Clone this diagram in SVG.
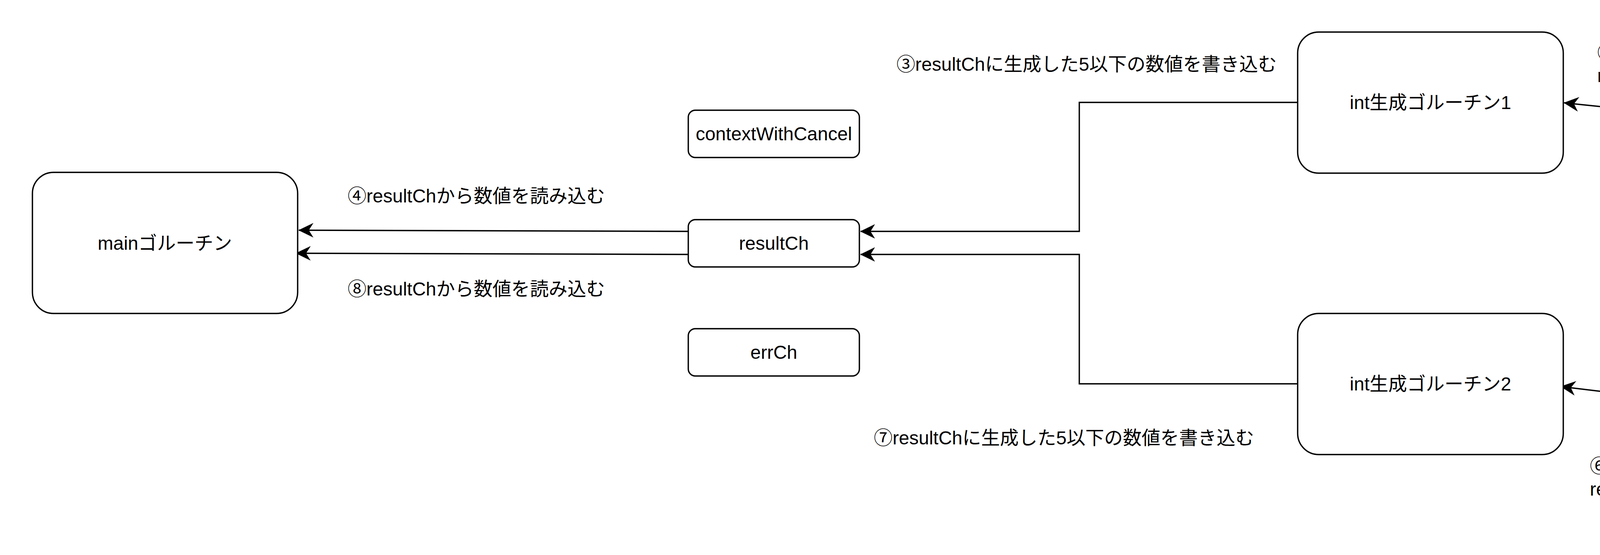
<svg xmlns="http://www.w3.org/2000/svg" width="7224" height="1420" viewBox="0 0 7224 1420">
<style>
  .node { fill: #ffffff; stroke: #000000; stroke-width: 3.4; }
  .edge { fill: none; stroke: #000000; stroke-width: 3.4; }
  text { font-family: "Liberation Sans", "Noto Sans CJK JP", sans-serif; font-size: 48px; fill: #000000; }
  .c { text-anchor: middle; dominant-baseline: central; }
  .l { text-anchor: start; dominant-baseline: central; }
</style>
<defs>
  <marker id="arrow" markerUnits="userSpaceOnUse" markerWidth="40" markerHeight="40" refX="38" refY="18" orient="auto" viewBox="0 0 40 36">
    <path d="M38,18 L2,0.5 L13,18 L2,35.5 Z" fill="#000000" stroke="#000000" stroke-width="1"/>
  </marker>
</defs>
<rect width="7224" height="1420" fill="#ffffff"/>

<g id="connectors">
  <path class="edge" d="M6463,291 L5374,382" marker-end="url(#arrow)"/>
  <path class="edge" d="M4936,360 L4004,263" marker-end="url(#arrow)"/>
  <path class="edge" d="M3322,262 L2763,262 L2763,592 L2203,592" marker-end="url(#arrow)"/>
  <path class="edge" d="M1762,592 L765,589" marker-end="url(#arrow)"/>
  <path class="edge" d="M6463,993 L5374,1102" marker-end="url(#arrow)"/>
  <path class="edge" d="M4936,1102 L3996,989" marker-end="url(#arrow)"/>
  <path class="edge" d="M3322,982 L2763,982 L2763,651 L2203,651" marker-end="url(#arrow)"/>
  <path class="edge" d="M1762,651 L758,648" marker-end="url(#arrow)"/>
</g>

<g id="main">
  <rect class="node" x="83" y="441" width="679" height="361" rx="54" ry="54"/>
  <text class="c" x="422" y="622">mainゴルーチン</text>
</g>
<g id="ctx-left">
  <rect class="node" x="1762" y="282" width="438" height="121" rx="18" ry="18"/>
  <text class="c" x="1981" y="342">contextWithCancel</text>
</g>
<g id="resultCh">
  <rect class="node" x="1762" y="562" width="438" height="121" rx="18" ry="18"/>
  <text class="c" x="1981" y="622">resultCh</text>
</g>
<g id="errCh">
  <rect class="node" x="1762" y="841" width="438" height="121" rx="18" ry="18"/>
  <text class="c" x="1981" y="901">errCh</text>
</g>
<g id="int1">
  <rect class="node" x="3322" y="82" width="680" height="361" rx="54" ry="54"/>
  <text class="c" x="3662" y="262">int生成ゴルーチン1</text>
</g>
<g id="int2">
  <rect class="node" x="3322" y="802" width="680" height="361" rx="54" ry="54"/>
  <text class="c" x="3662" y="982">int生成ゴルーチン2</text>
</g>
<g id="ctx-right-1">
  <rect class="node" x="4935" y="82" width="438" height="121" rx="18" ry="18"/>
  <text class="c" x="5154" y="142">contextWithCancel</text>
</g>
<g id="sleepCh1">
  <rect class="node" x="4935" y="322" width="438" height="121" rx="18" ry="18"/>
  <text class="c" x="5154" y="382">sleepCh</text>
</g>
<g id="ctx-right-2">
  <rect class="node" x="4935" y="802" width="438" height="121" rx="18" ry="18"/>
  <text class="c" x="5154" y="862">contextWithCancel</text>
</g>
<g id="sleepCh2">
  <rect class="node" x="4935" y="1042" width="438" height="121" rx="18" ry="18"/>
  <text class="c" x="5154" y="1102">sleepCh</text>
</g>
<g id="sleep1">
  <rect class="node" x="6463" y="82" width="677" height="361" rx="54" ry="54"/>
  <text class="c" x="6801" y="262">sleepゴルーチン1</text>
</g>
<g id="sleep2">
  <rect class="node" x="6463" y="777" width="677" height="362" rx="54" ry="54"/>
  <text class="c" x="6801" y="958">sleepゴルーチン2</text>
</g>

<g id="labels">
  <text class="l" x="5480" y="175">①sleepゴルーチン1でのスリープが終了し</text>
  <text class="l" x="5480" y="233">sleepChをクローズする</text>
  <text class="l" x="4089" y="134">②sleepChからの読み込みを受け取り</text>
  <text class="l" x="4089" y="193">resultまたはerrを生成する</text>
  <text class="l" x="2295" y="164">③resultChに生成した5以下の数値を書き込む</text>
  <text class="l" x="890" y="501">④resultChから数値を読み込む</text>
  <text class="l" x="5462" y="1233">⑤sleepゴルーチン1でのスリープが終了し</text>
  <text class="l" x="5462" y="1291">sleepChをクローズする</text>
  <text class="l" x="4070" y="1192">⑥sleepChからの読み込みを受け取り</text>
  <text class="l" x="4070" y="1251">resultまたはerrを生成する</text>
  <text class="l" x="2237" y="1120">⑦resultChに生成した5以下の数値を書き込む</text>
  <text class="l" x="890" y="739">⑧resultChから数値を読み込む</text>
</g>
</svg>
